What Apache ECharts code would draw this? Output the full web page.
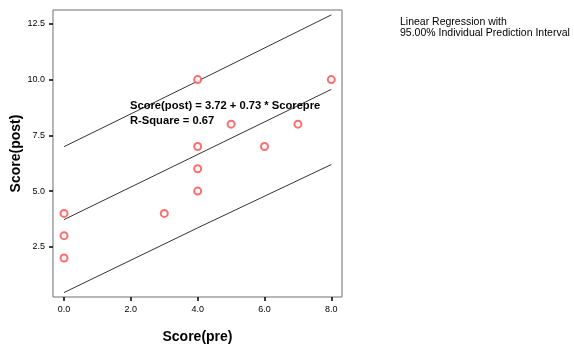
<!DOCTYPE html>
<html>
<head>
<meta charset="utf-8">
<script src="https://cdn.jsdelivr.net/npm/echarts@6/dist/echarts.min.js"></script>
<style>
html,body{margin:0;padding:0;background:#fff;}
#chart{width:574px;height:345px;}
</style>
</head>
<body>
<div id="chart"></div>
<script>
// Observed points (pre score, post score)
var preScores  = [0, 0, 0, 3, 4, 4, 4, 4, 5, 6, 7, 8];
var postScores = [4, 3, 2, 4, 10, 7, 6, 5, 8, 7, 8, 10];
// Fit line and prediction interval
var fitX = [0, 8];
var fitY = [3.72, 9.56];
var bandX = [0, 4, 8];
var upperY = [6.99, 9.93, 12.9];
var lowerY = [0.45, 3.35, 6.19];
// Tick values
var xTicks = [0, 2, 4, 6, 8];
var yTicks = [2.5, 5.0, 7.5, 10.0, 12.5];
// Texts
var equationText = 'Score(post) = 3.72 + 0.73 * Scorepre';
var rsqText = 'R-Square = 0.67';
var legendLines = ['Linear Regression with', '95.00% Individual Prediction Interval'];

function zip(a, b) { return a.map(function (v, i) { return [v, b[i]]; }); }

var chart = echarts.init(document.getElementById('chart'));
var font = 'Arial, "Liberation Sans", sans-serif';
chart.setOption({
  animation: false,
  backgroundColor: '#ffffff',
  grid: { left: 53, top: 10, right: 232, bottom: 48, containLabel: false, outerBoundsMode: 'none',
    show: true, borderColor: '#6e6e6e', borderWidth: 1, backgroundColor: 'transparent' },
  xAxis: {
    type: 'value', min: -0.33, max: 8.32,
    axisLine: { show: false, onZero: false },
    splitLine: { show: false },
    axisTick: { show: true, length: 4, customValues: xTicks, lineStyle: { color: '#000', width: 1.5 } },
    axisLabel: { customValues: xTicks, margin: 8, fontSize: 9, color: '#000', fontFamily: font,
      formatter: function (v) { return v.toFixed(1); } },
    name: 'Score(pre)', nameLocation: 'middle', nameGap: 33, nameMoveOverlap: false,
    nameTextStyle: { fontSize: 14, fontWeight: 'bold', color: '#000', fontFamily: font }
  },
  yAxis: {
    type: 'value', min: 0.25, max: 13.12,
    axisLine: { show: false, onZero: false },
    splitLine: { show: false },
    axisTick: { show: true, length: 4, customValues: yTicks, lineStyle: { color: '#000', width: 1.5 } },
    axisLabel: { customValues: yTicks, margin: 8, fontSize: 9, color: '#000', fontFamily: font,
      formatter: function (v) { return v.toFixed(1); } },
    name: 'Score(post)', nameLocation: 'middle', nameGap: 30, nameMoveOverlap: false,
    nameTextStyle: { fontSize: 14, fontWeight: 'bold', color: '#000', fontFamily: font }
  },
  series: [
    { type: 'line', data: zip(bandX, upperY), symbol: 'none', lineStyle: { color: '#333', width: 1 }, silent: true },
    { type: 'line', data: zip(fitX, fitY), symbol: 'none', lineStyle: { color: '#333', width: 1 }, silent: true },
    { type: 'line', data: zip(bandX, lowerY), symbol: 'none', lineStyle: { color: '#333', width: 1 }, silent: true },
    { type: 'scatter', data: zip(preScores, postScores), symbol: 'emptyCircle', symbolSize: 7,
      itemStyle: { color: '#ff4a4a', borderColor: '#ff4a4a', borderWidth: 1 }, z: 5 }
  ],
  graphic: [
    { type: 'text', left: 130, top: 98, z: 10,
      style: { text: equationText + '\n' + rsqText, font: 'bold 11.2px ' + font, fill: '#000', lineHeight: 15 } },
    { type: 'text', left: 400, top: 17,
      style: { text: legendLines.join('\n'), font: '10.5px ' + font, fill: '#000', lineHeight: 11 } }
  ]
});
</script>
</body>
</html>
